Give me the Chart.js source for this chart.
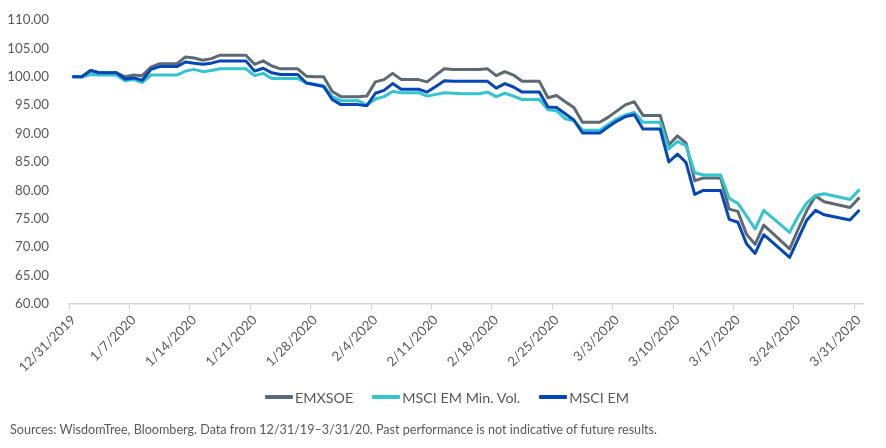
<!DOCTYPE html>
<html><head><meta charset="utf-8">
<script src="https://cdn.jsdelivr.net/npm/chart.js@4.4.1/dist/chart.umd.min.js"></script>
<style>
html,body{margin:0;padding:0;background:#fff;}
#wrap{position:relative;width:886px;height:448px;overflow:hidden;font-family:Lato,"Open Sans",sans-serif;}
#c{position:absolute;left:0;top:0;}
#legend{position:absolute;left:4px;width:886px;top:388px;height:18px;display:flex;justify-content:center;align-items:center;font-size:14.3px;color:#595959;}
.item{display:flex;align-items:center;margin:0 9.5px;}
.sw{width:28px;height:4px;margin-right:2px;border-radius:1px;}
#foot{position:absolute;left:10px;top:422px;font-size:12.6px;line-height:15px;color:#595959;white-space:nowrap;}
</style></head><body>
<div id="wrap"><canvas id="c" width="886" height="448"></canvas><div id="legend"></div>
<div id="foot">Sources: WisdomTree, Bloomberg. Data from 12/31/19–3/31/20. Past performance is not indicative of future results.</div></div>
<script>
const dates = ['12/31/2019',
'1/1/2020','1/2/2020','1/3/2020','1/4/2020','1/5/2020','1/6/2020','1/7/2020','1/8/2020','1/9/2020','1/10/2020',
'1/11/2020','1/12/2020','1/13/2020','1/14/2020','1/15/2020','1/16/2020','1/17/2020','1/18/2020','1/19/2020','1/20/2020',
'1/21/2020','1/22/2020','1/23/2020','1/24/2020','1/25/2020','1/26/2020','1/27/2020','1/28/2020','1/29/2020','1/30/2020','1/31/2020',
'2/1/2020','2/2/2020','2/3/2020','2/4/2020','2/5/2020','2/6/2020','2/7/2020','2/8/2020','2/9/2020','2/10/2020',
'2/11/2020','2/12/2020','2/13/2020','2/14/2020','2/15/2020','2/16/2020','2/17/2020','2/18/2020','2/19/2020','2/20/2020',
'2/21/2020','2/22/2020','2/23/2020','2/24/2020','2/25/2020','2/26/2020','2/27/2020','2/28/2020','2/29/2020',
'3/1/2020','3/2/2020','3/3/2020','3/4/2020','3/5/2020','3/6/2020','3/7/2020','3/8/2020','3/9/2020','3/10/2020',
'3/11/2020','3/12/2020','3/13/2020','3/14/2020','3/15/2020','3/16/2020','3/17/2020','3/18/2020','3/19/2020','3/20/2020',
'3/21/2020','3/22/2020','3/23/2020','3/24/2020','3/25/2020','3/26/2020','3/27/2020','3/28/2020','3/29/2020','3/30/2020','3/31/2020'];

const tickLabels = ['12/31/2019','1/7/2020','1/14/2020','1/21/2020','1/28/2020','2/4/2020','2/11/2020',
'2/18/2020','2/25/2020','3/3/2020','3/10/2020','3/17/2020','3/24/2020','3/31/2020'];

const yTicks = [60,65,70,75,80,85,90,95,100,105,110];

const emxsoe = [100.0,
100.0,101.1,100.7,100.7,100.7,100.0,100.3,100.2,101.7,102.3,
102.3,102.3,103.5,103.3,102.9,103.2,103.8,103.8,103.8,103.8,
102.2,102.8,101.9,101.4,101.4,101.4,100.1,100.0,100.0,97.4,96.5,
96.5,96.5,96.6,99.1,99.5,100.6,99.5,99.5,99.5,99.1,
100.3,101.4,101.3,101.3,101.3,101.3,101.4,100.2,100.9,100.3,
99.2,99.2,99.2,96.3,96.7,95.6,94.6,92.0,92.0,
92.0,92.9,94.0,95.1,95.6,93.2,93.2,93.2,88.0,89.6,
88.3,81.7,82.2,82.2,82.2,76.7,76.3,72.3,70.5,73.9,
null,null,69.7,73.2,76.5,79.0,78.0,null,null,77.0,78.6];

const minVol = [100.0,
100.0,100.4,100.3,100.3,100.3,99.3,99.5,99.0,100.3,100.3,
100.3,100.3,101.0,101.3,100.9,101.1,101.4,101.4,101.4,101.4,
100.2,100.6,99.7,99.7,99.7,99.7,98.9,98.7,98.4,96.5,95.8,
95.8,95.8,95.0,96.1,96.5,97.4,97.2,97.2,97.2,96.6,
96.9,97.2,97.1,97.0,97.0,97.0,97.3,96.5,97.1,96.6,
96.0,96.0,96.0,94.2,94.0,92.6,92.3,90.6,90.6,
90.6,91.6,92.6,93.3,93.7,92.0,92.0,92.0,87.3,88.6,
87.9,83.1,82.7,82.7,82.7,78.6,77.7,75.5,73.2,76.5,
null,null,72.6,75.5,77.8,79.1,79.4,null,null,78.4,80.0];

const msciEm = [100.0,
100.0,101.1,100.7,100.7,100.7,99.6,99.8,99.4,101.3,101.8,
101.8,101.8,102.6,102.4,102.2,102.4,102.8,102.8,102.8,102.8,
101.0,101.5,100.7,100.4,100.4,100.4,98.9,98.6,98.3,96.0,95.1,
95.1,95.1,94.9,97.1,97.6,98.8,97.8,97.8,97.8,97.3,
98.3,99.3,99.2,99.2,99.2,99.2,99.2,98.0,98.8,98.2,
97.3,97.3,97.3,94.7,94.6,93.5,92.4,90.1,90.1,
90.1,91.2,92.2,93.0,93.3,90.8,90.8,90.8,85.0,86.4,
84.9,79.3,80.0,80.0,80.0,74.9,74.4,70.6,68.9,72.2,
null,null,68.2,71.5,74.8,76.5,75.7,null,null,74.8,76.4];

const seriesNames = ['EMXSOE','MSCI EM Min. Vol.','MSCI EM'];
const seriesColors = ['#5E6A73','#33C5CF','#0547B9'];
const seriesData = [emxsoe, minVol, msciEm];

const legend = document.getElementById('legend');
seriesNames.forEach((n,i)=>{
  const it=document.createElement('div'); it.className='item';
  const sw=document.createElement('div'); sw.className='sw'; sw.style.background=seriesColors[i];
  const tx=document.createElement('span'); tx.textContent=n;
  it.appendChild(sw); it.appendChild(tx); legend.appendChild(it);
});

// draw MSCI EM on top, then Min Vol, then EMXSOE
const drawOrder = [2,1,0];
const datasets = drawOrder.map(k=>({
  label: seriesNames[k],
  data: seriesData[k],
  borderColor: seriesColors[k],
  backgroundColor: seriesColors[k],
  borderWidth: 3,
  pointRadius: 0,
  tension: 0,
  spanGaps: true,
  borderJoinStyle: 'round',
  borderCapStyle: 'round'
}));

const fontFam = 'Lato, "Open Sans", sans-serif';
new Chart(document.getElementById('c'), {
  type: 'line',
  data: { labels: dates, datasets },
  options: {
    responsive: false,
    animation: false,
    devicePixelRatio: 1,
    layout: { padding: { left: 0, right: 23, top: 17, bottom: 0 } },
    plugins: { legend: { display: false }, tooltip: { enabled: false } },
    scales: {
      x: {
        type: 'category',
        offset: true,
        afterFit: s => { s.height = 144; },
        grid: {
          display: true, drawOnChartArea: false, offset: true, tickLength: 6,
          tickColor: ctx => (ctx.index !== undefined && dates[ctx.index] && tickLabels.includes(dates[ctx.index])) ? '#d4d4d4' : 'rgba(0,0,0,0)'
        },
        border: { display: true, color: '#d4d4d4', width: 1.5 },
        ticks: {
          autoSkip: false, maxRotation: 45, minRotation: 45, padding: 2,
          color: '#595959', font: { family: fontFam, size: 13.3 },
          callback: (v, i) => tickLabels.includes(dates[i]) ? dates[i] : ''
        }
      },
      y: {
        min: 60, max: 110,
        afterFit: s => { s.width = 69; },
        afterBuildTicks: s => { s.ticks = yTicks.map(v => ({ value: v })); },
        grid: { display: false },
        border: { display: false },
        ticks: {
          padding: 12, color: '#595959', font: { family: fontFam, size: 13.3 },
          callback: v => Number(v).toFixed(2)
        }
      }
    }
  }
});
</script>
</body></html>
